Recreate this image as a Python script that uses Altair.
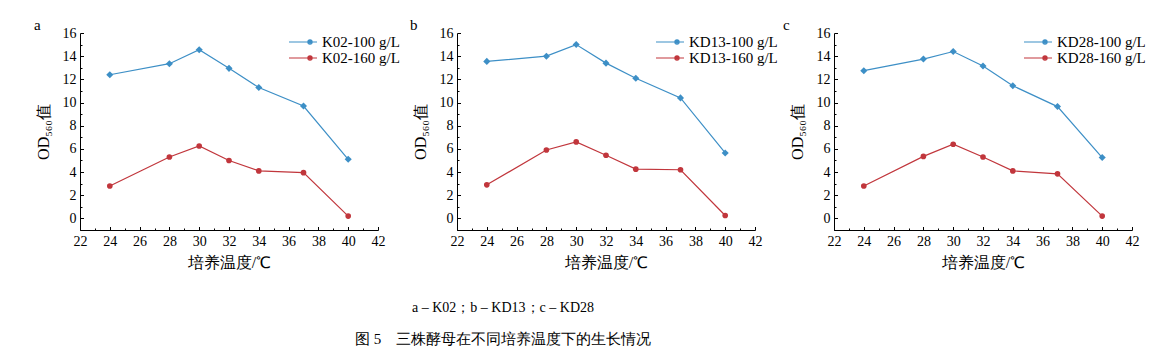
import altair as alt
import pandas as pd

temps = [24, 28, 30, 32, 34, 37, 40]

k02_100 = [12.4, 13.35, 14.55, 12.95, 11.3, 9.7, 5.1]
k02_160 = [2.8, 5.3, 6.25, 5.0, 4.1, 3.95, 0.2]
kd13_100 = [13.55, 14.0, 15.0, 13.4, 12.1, 10.4, 5.65]
kd13_160 = [2.9, 5.9, 6.6, 5.45, 4.25, 4.2, 0.25]
kd28_100 = [12.75, 13.75, 14.4, 13.15, 11.45, 9.65, 5.25]
kd28_160 = [2.8, 5.35, 6.4, 5.3, 4.1, 3.85, 0.2]

panels = [
    ("a", "K02", k02_100, k02_160),
    ("b", "KD13", kd13_100, kd13_160),
    ("c", "KD28", kd28_100, kd28_160),
]

x_ticks = list(range(22, 43, 2))
x_all = list(range(22, 43))
y_ticks = list(range(0, 17, 2))
y_all = list(range(-1, 17))

BLUE = "#3d8fc6"
RED = "#c1363c"
SERIF = "Liberation Serif"
W, H = 298, 197
letter_dx = [-46, -47, -51]
legend_x = [222, 212, 203]
LEG_SYMBOL = ("M-3,0H1"
              "M-0.3,0A0.3,0.3 0 1,1 0.3,0A0.3,0.3 0 1,1 -0.3,0"
              "M-0.14,0A0.14,0.14 0 1,1 0.14,0A0.14,0.14 0 1,1 -0.14,0")


def panel(letter, strain, v100, v160, i):
    s100 = f"{strain}-100 g/L"
    s160 = f"{strain}-160 g/L"
    df = pd.DataFrame({
        "temp": temps * 2,
        "od": v100 + v160,
        "series": [s100] * len(temps) + [s160] * len(temps),
    })
    df["marker"] = df["series"]
    df["pcol"] = df["series"]
    xs = alt.Scale(domain=[22, 42], nice=False, padding=0, zero=False)
    ys = alt.Scale(domain=[-1, 16], nice=False, padding=0, zero=False)
    cs = alt.Scale(domain=[s100, s160], range=[BLUE, RED])
    base = alt.Chart(df)
    line = base.mark_line(strokeWidth=1.2).encode(
        x=alt.X("temp:Q", scale=xs,
                axis=alt.Axis(values=x_ticks, title="培养温度/℃", ticks=False, tickSize=0,
                              orient="bottom", labelPadding=4, titlePadding=6,
                              labelFlush=False)),
        y=alt.Y("od:Q", scale=ys,
                axis=alt.Axis(values=y_ticks, title="OD₅₆₀值", ticks=False, tickSize=0,
                              orient="left", labelPadding=4, titlePadding=11,
                              labelFlush=False)),
        color=alt.Color("series:N", scale=cs,
                        legend=alt.Legend(
                            title=None, orient="none",
                            legendX=legend_x[i], legendY=1,
                            symbolType=LEG_SYMBOL,
                            symbolSize=196, symbolStrokeWidth=1.2,
                            labelFont=SERIF, labelFontSize=15,
                            labelColor="black", rowPadding=-6,
                            labelOffset=4)),
    )
    pts = base.mark_point(filled=True, opacity=1).encode(
        x=alt.X("temp:Q", scale=xs,
                axis=alt.Axis(values=x_all, orient="top", offset=-H,
                              labels=False, domain=False, title=None,
                              tickColor="black", tickWidth=1,
                              tickSize={"condition": {"test": "datum.value % 2 == 0", "value": 3.5},
                                        "value": 2})),
        y=alt.Y("od:Q", scale=ys,
                axis=alt.Axis(values=y_all, orient="right", offset=-W,
                              labels=False, domain=False, title=None,
                              tickColor="black", tickWidth=1,
                              tickSize={"condition": {"test": "datum.value % 2 == 0", "value": 3.5},
                                        "value": 2})),
        color=alt.Color("pcol:N", scale=alt.Scale(domain=[s100, s160], range=[BLUE, RED]), legend=None),
        shape=alt.Shape("marker:N", scale=alt.Scale(domain=[s100, s160], range=["diamond", "circle"]),
                        legend=None),
        size=alt.Size("marker:N", scale=alt.Scale(domain=[s100, s160], range=[50, 32]), legend=None),
    )
    return alt.layer(line, pts).resolve_axis(
        x="independent", y="independent"
    ).resolve_scale(color="independent", shape="independent", size="independent").properties(
        width=W, height=H,
        title=alt.TitleParams(letter, anchor="start", frame="group", dx=letter_dx[i], offset=-7,
                              font=SERIF, fontSize=15, fontWeight="normal", color="black"),
    )


charts = [panel(l, s, a, b, i) for i, (l, s, a, b) in enumerate(panels)]

chart = alt.hconcat(*charts, spacing=79, bounds="flush").resolve_scale(
    color="independent", shape="independent", size="independent"
).properties(
    padding={"left": 26, "top": 10, "right": 0, "bottom": 0},
    title=alt.TitleParams(
        "a – K02；b – KD13；c – KD28",
        subtitle="图 5\u3000三株酵母在不同培养温度下的生长情况",
        orient="bottom", anchor="middle", dx=-87, offset=31,
        font=SERIF, fontSize=14, fontWeight="normal", color="black",
        subtitleFont=SERIF, subtitleFontSize=15, subtitleColor="black",
        subtitlePadding=17,
    ),
).configure_view(stroke=None).configure_axis(
    grid=False, domainColor="black", domainWidth=1, labelColor="black",
    labelFont=SERIF, labelFontSize=14, titleFont=SERIF, titleFontSize=16,
    titleFontWeight="normal", titleColor="black",
)

chart.save("out.html", embed_options={"renderer": "svg", "actions": False})
